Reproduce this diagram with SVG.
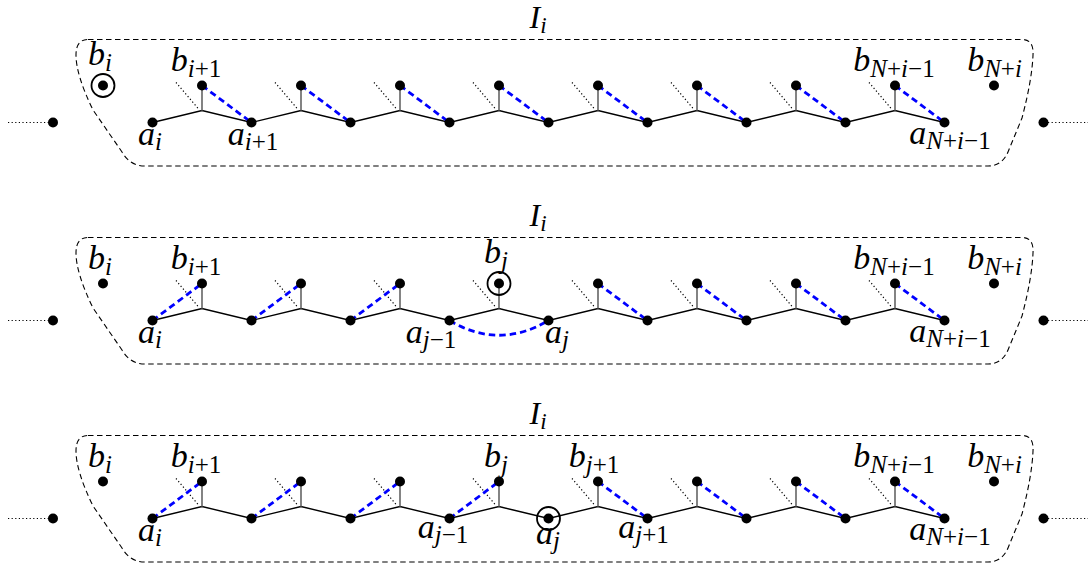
<svg xmlns="http://www.w3.org/2000/svg" width="1088" height="564" viewBox="0 0 1088 564">
<defs>
<style>
.box{fill:none;stroke:#000;stroke-width:1.1;stroke-dasharray:5.5 3.5}
.edge{stroke:#000;stroke-width:1.4;fill:none}
.stem{stroke:#777;stroke-width:1.8;fill:none}
.dot{stroke:#000;stroke-width:1.2;stroke-dasharray:1.2 2.4;fill:none}
.blue{stroke:#0000ff;stroke-width:2.8;stroke-dasharray:6.5 4;fill:none}
.node{fill:#000}
.ring{fill:none;stroke:#000;stroke-width:1.8}
.lbl{font-family:"Liberation Serif","Times New Roman",serif;font-style:italic;font-size:34px;fill:#000}
.sub{font-size:25px}
.up{font-style:normal}
.ttl{font-family:"Liberation Serif","Times New Roman",serif;font-style:italic;font-size:32px;fill:#000}
.tsub{font-size:23px}
</style>
<path id="boxshape" d="M88,39.5 L1022,39.5 Q1034,39.5 1033,55 Q1032,80 1022,118 L1008,152 Q1002,166 988,166 L145,166 Q130,166 122,152 L93,110 Q76,75 76,55 Q76,39.5 88,39.5 Z"/>
<path id="chain" d="M152.5,122.5 L202,110.5 L251.5,122.5 L301,110.5 L350.5,122.5 L400,110.5 L449.5,122.5 L499,110.5 L548.5,122.5 L598,110.5 L647.5,122.5 L697,110.5 L746.5,122.5 L796,110.5 L845.5,122.5 L895,110.5 L944.5,122.5"/>
<path id="stems" d="M202,85.5V110.5M301,85.5V110.5M400,85.5V110.5M499,85.5V110.5M598,85.5V110.5M697,85.5V110.5M796,85.5V110.5M895,85.5V110.5"/>
<path id="dots" d="M176,82.5L199,109.5M275,82.5L298,109.5M374,82.5L397,109.5M473,82.5L496,109.5M572,82.5L595,109.5M671,82.5L694,109.5M770,82.5L793,109.5M869,82.5L892,109.5M8,122.5H49M1048,122.5H1088"/>
</defs>

<!-- ================= Panel 1 ================= -->
<g id="panel1">
<g id="p1-connectors">
<use href="#boxshape" class="box"/>
<use href="#dots" class="dot"/>
<use href="#chain" class="edge"/>
<use href="#stems" class="stem"/>
<path class="blue" d="M202,85.5L251.5,122.5M301,85.5L350.5,122.5M400,85.5L449.5,122.5M499,85.5L548.5,122.5M598,85.5L647.5,122.5M697,85.5L746.5,122.5M796,85.5L845.5,122.5M895,85.5L944.5,122.5"/>
</g>
<text class="ttl" x="538" y="28" text-anchor="middle">I<tspan class="tsub" dy="5">i</tspan></text>
<g id="p1-left"><circle class="node" cx="53" cy="122.5" r="5"/></g>
<g id="p1-right"><circle class="node" cx="1043.5" cy="122.5" r="5"/></g>
<g id="p1-bi"><circle class="ring" cx="103" cy="85.5" r="11.5"/><circle class="node" cx="103" cy="85.5" r="5"/><text class="lbl" x="100" y="65" text-anchor="middle">b<tspan class="sub" dy="6">i</tspan></text></g>
<g id="p1-b1"><circle class="node" cx="202" cy="85.5" r="5"/><text class="lbl" x="196" y="70.5" text-anchor="middle">b<tspan class="sub" dy="6">i<tspan class="up">+1</tspan></tspan></text></g>
<g id="p1-b2"><circle class="node" cx="301" cy="85.5" r="5"/></g>
<g id="p1-b3"><circle class="node" cx="400" cy="85.5" r="5"/></g>
<g id="p1-b4"><circle class="node" cx="499" cy="85.5" r="5"/></g>
<g id="p1-b5"><circle class="node" cx="598" cy="85.5" r="5"/></g>
<g id="p1-b6"><circle class="node" cx="697" cy="85.5" r="5"/></g>
<g id="p1-b7"><circle class="node" cx="796" cy="85.5" r="5"/></g>
<g id="p1-b8"><circle class="node" cx="895" cy="85.5" r="5"/><text class="lbl" x="894" y="71" text-anchor="middle">b<tspan class="sub" dy="6">N<tspan class="up">+</tspan>i<tspan class="up">−1</tspan></tspan></text></g>
<g id="p1-bN"><circle class="node" cx="994" cy="85.5" r="5"/><text class="lbl" x="994.5" y="71" text-anchor="middle">b<tspan class="sub" dy="6">N<tspan class="up">+</tspan>i</tspan></text></g>
<g id="p1-a0"><circle class="node" cx="152.5" cy="122.5" r="5"/><text class="lbl" x="150" y="145" text-anchor="middle">a<tspan class="sub" dy="5">i</tspan></text></g>
<g id="p1-a1"><circle class="node" cx="251.5" cy="122.5" r="5"/><text class="lbl" x="253" y="145" text-anchor="middle">a<tspan class="sub" dy="5">i<tspan class="up">+1</tspan></tspan></text></g>
<g id="p1-a2"><circle class="node" cx="350.5" cy="122.5" r="5"/></g>
<g id="p1-a3"><circle class="node" cx="449.5" cy="122.5" r="5"/></g>
<g id="p1-a4"><circle class="node" cx="548.5" cy="122.5" r="5"/></g>
<g id="p1-a5"><circle class="node" cx="647.5" cy="122.5" r="5"/></g>
<g id="p1-a6"><circle class="node" cx="746.5" cy="122.5" r="5"/></g>
<g id="p1-a7"><circle class="node" cx="845.5" cy="122.5" r="5"/></g>
<g id="p1-a8"><circle class="node" cx="944.5" cy="122.5" r="5"/><text class="lbl" x="950" y="144" text-anchor="middle">a<tspan class="sub" dy="5">N<tspan class="up">+</tspan>i<tspan class="up">−1</tspan></tspan></text></g>
</g>

<!-- ================= Panel 2 ================= -->
<g id="panel2" transform="translate(0,198)">
<g id="p2-connectors">
<use href="#boxshape" class="box"/>
<use href="#dots" class="dot"/>
<use href="#chain" class="edge"/>
<use href="#stems" class="stem"/>
<path class="blue" d="M152.5,122.5L202,85.5M251.5,122.5L301,85.5M350.5,122.5L400,85.5M449.5,122.5Q499,152 548.5,122.5M598,85.5L647.5,122.5M697,85.5L746.5,122.5M796,85.5L845.5,122.5M895,85.5L944.5,122.5"/>
</g>
<text class="ttl" x="538" y="28" text-anchor="middle">I<tspan class="tsub" dy="5">i</tspan></text>
<g id="p2-left"><circle class="node" cx="53" cy="122.5" r="5"/></g>
<g id="p2-right"><circle class="node" cx="1043.5" cy="122.5" r="5"/></g>
<g id="p2-bi"><circle class="node" cx="103" cy="85.5" r="5"/><text class="lbl" x="100" y="71" text-anchor="middle">b<tspan class="sub" dy="6">i</tspan></text></g>
<g id="p2-b1"><circle class="node" cx="202" cy="85.5" r="5"/><text class="lbl" x="196" y="70.5" text-anchor="middle">b<tspan class="sub" dy="6">i<tspan class="up">+1</tspan></tspan></text></g>
<g id="p2-b2"><circle class="node" cx="301" cy="85.5" r="5"/></g>
<g id="p2-b3"><circle class="node" cx="400" cy="85.5" r="5"/></g>
<g id="p2-b4"><circle class="ring" cx="499" cy="85.5" r="11.5"/><circle class="node" cx="499" cy="85.5" r="5"/><text class="lbl" x="496" y="65" text-anchor="middle">b<tspan class="sub" dy="6">j</tspan></text></g>
<g id="p2-b5"><circle class="node" cx="598" cy="85.5" r="5"/></g>
<g id="p2-b6"><circle class="node" cx="697" cy="85.5" r="5"/></g>
<g id="p2-b7"><circle class="node" cx="796" cy="85.5" r="5"/></g>
<g id="p2-b8"><circle class="node" cx="895" cy="85.5" r="5"/><text class="lbl" x="894" y="71" text-anchor="middle">b<tspan class="sub" dy="6">N<tspan class="up">+</tspan>i<tspan class="up">−1</tspan></tspan></text></g>
<g id="p2-bN"><circle class="node" cx="994" cy="85.5" r="5"/><text class="lbl" x="994.5" y="71" text-anchor="middle">b<tspan class="sub" dy="6">N<tspan class="up">+</tspan>i</tspan></text></g>
<g id="p2-a0"><circle class="node" cx="152.5" cy="122.5" r="5"/><text class="lbl" x="150" y="145" text-anchor="middle">a<tspan class="sub" dy="5">i</tspan></text></g>
<g id="p2-a1"><circle class="node" cx="251.5" cy="122.5" r="5"/></g>
<g id="p2-a2"><circle class="node" cx="350.5" cy="122.5" r="5"/></g>
<g id="p2-a3"><circle class="node" cx="449.5" cy="122.5" r="5"/><text class="lbl" x="431" y="145" text-anchor="middle">a<tspan class="sub" dy="5">j<tspan class="up">−1</tspan></tspan></text></g>
<g id="p2-a4"><circle class="node" cx="548.5" cy="122.5" r="5"/><text class="lbl" x="557" y="145" text-anchor="middle">a<tspan class="sub" dy="5">j</tspan></text></g>
<g id="p2-a5"><circle class="node" cx="647.5" cy="122.5" r="5"/></g>
<g id="p2-a6"><circle class="node" cx="746.5" cy="122.5" r="5"/></g>
<g id="p2-a7"><circle class="node" cx="845.5" cy="122.5" r="5"/></g>
<g id="p2-a8"><circle class="node" cx="944.5" cy="122.5" r="5"/><text class="lbl" x="950" y="144" text-anchor="middle">a<tspan class="sub" dy="5">N<tspan class="up">+</tspan>i<tspan class="up">−1</tspan></tspan></text></g>
</g>

<!-- ================= Panel 3 ================= -->
<g id="panel3" transform="translate(0,396)">
<g id="p3-connectors">
<use href="#boxshape" class="box"/>
<use href="#dots" class="dot"/>
<use href="#chain" class="edge"/>
<use href="#stems" class="stem"/>
<path class="blue" d="M152.5,122.5L202,85.5M251.5,122.5L301,85.5M350.5,122.5L400,85.5M449.5,122.5L499,85.5M598,85.5L647.5,122.5M697,85.5L746.5,122.5M796,85.5L845.5,122.5M895,85.5L944.5,122.5"/>
</g>
<text class="ttl" x="538" y="28" text-anchor="middle">I<tspan class="tsub" dy="5">i</tspan></text>
<g id="p3-left"><circle class="node" cx="53" cy="122.5" r="5"/></g>
<g id="p3-right"><circle class="node" cx="1043.5" cy="122.5" r="5"/></g>
<g id="p3-bi"><circle class="node" cx="103" cy="85.5" r="5"/><text class="lbl" x="100" y="71" text-anchor="middle">b<tspan class="sub" dy="6">i</tspan></text></g>
<g id="p3-b1"><circle class="node" cx="202" cy="85.5" r="5"/><text class="lbl" x="196" y="70.5" text-anchor="middle">b<tspan class="sub" dy="6">i<tspan class="up">+1</tspan></tspan></text></g>
<g id="p3-b2"><circle class="node" cx="301" cy="85.5" r="5"/></g>
<g id="p3-b3"><circle class="node" cx="400" cy="85.5" r="5"/></g>
<g id="p3-b4"><circle class="node" cx="499" cy="85.5" r="5"/><text class="lbl" x="496" y="70.5" text-anchor="middle">b<tspan class="sub" dy="6">j</tspan></text></g>
<g id="p3-b5"><circle class="node" cx="598" cy="85.5" r="5"/><text class="lbl" x="594" y="70.5" text-anchor="middle">b<tspan class="sub" dy="6">j<tspan class="up">+1</tspan></tspan></text></g>
<g id="p3-b6"><circle class="node" cx="697" cy="85.5" r="5"/></g>
<g id="p3-b7"><circle class="node" cx="796" cy="85.5" r="5"/></g>
<g id="p3-b8"><circle class="node" cx="895" cy="85.5" r="5"/><text class="lbl" x="894" y="71" text-anchor="middle">b<tspan class="sub" dy="6">N<tspan class="up">+</tspan>i<tspan class="up">−1</tspan></tspan></text></g>
<g id="p3-bN"><circle class="node" cx="994" cy="85.5" r="5"/><text class="lbl" x="994.5" y="71" text-anchor="middle">b<tspan class="sub" dy="6">N<tspan class="up">+</tspan>i</tspan></text></g>
<g id="p3-a0"><circle class="node" cx="152.5" cy="122.5" r="5"/><text class="lbl" x="150" y="145" text-anchor="middle">a<tspan class="sub" dy="5">i</tspan></text></g>
<g id="p3-a1"><circle class="node" cx="251.5" cy="122.5" r="5"/></g>
<g id="p3-a2"><circle class="node" cx="350.5" cy="122.5" r="5"/></g>
<g id="p3-a3"><circle class="node" cx="449.5" cy="122.5" r="5"/><text class="lbl" x="443" y="142" text-anchor="middle">a<tspan class="sub" dy="5">j<tspan class="up">−1</tspan></tspan></text></g>
<g id="p3-a4"><circle class="ring" cx="548.5" cy="122.5" r="11.5"/><circle class="node" cx="548.5" cy="122.5" r="5"/><text class="lbl" x="548" y="148" text-anchor="middle">a<tspan class="sub" dy="5">j</tspan></text></g>
<g id="p3-a5"><circle class="node" cx="647.5" cy="122.5" r="5"/><text class="lbl" x="643.5" y="142" text-anchor="middle">a<tspan class="sub" dy="5">j<tspan class="up">+1</tspan></tspan></text></g>
<g id="p3-a6"><circle class="node" cx="746.5" cy="122.5" r="5"/></g>
<g id="p3-a7"><circle class="node" cx="845.5" cy="122.5" r="5"/></g>
<g id="p3-a8"><circle class="node" cx="944.5" cy="122.5" r="5"/><text class="lbl" x="950" y="144" text-anchor="middle">a<tspan class="sub" dy="5">N<tspan class="up">+</tspan>i<tspan class="up">−1</tspan></tspan></text></g>
</g>
</svg>
